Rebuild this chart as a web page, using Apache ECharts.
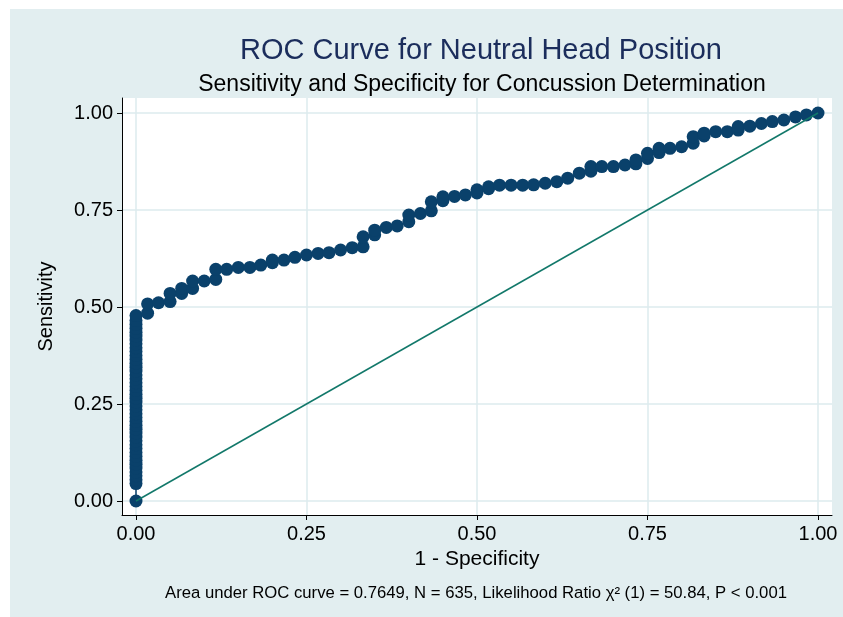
<!DOCTYPE html>
<html>
<head>
<meta charset="utf-8">
<script src="https://cdn.jsdelivr.net/npm/echarts@6/dist/echarts.min.js"></script>
<style>
  html, body { margin:0; padding:0; background:#ffffff; }
  #wrap { position:absolute; left:0; top:0; width:843px; height:617px; background:#ffffff; }
  #bg { position:absolute; left:10px; top:9px; right:0; bottom:0; background:#E2EEF0; }
  #chart { position:absolute; left:0; top:0; width:843px; height:617px; }
</style>
</head>
<body>
<div id="wrap"><div id="bg"></div><div id="chart"></div></div>
<script>
// ---- Data ----
const titleText = "ROC Curve for Neutral Head Position";
const subtitleText = "Sensitivity and Specificity for Concussion Determination";
const xAxisTitle = "1 - Specificity";
const yAxisTitle = "Sensitivity";
const noteText = "Area under ROC curve = 0.7649, N = 635, Likelihood Ratio \u03C7\u00B2 (1) = 50.84, P < 0.001";

const tickValues = [0, 0.25, 0.5, 0.75, 1];

// 1 - specificity (x) and sensitivity (y) of each plotted cut-off point
const fpr = [
  0, 0, 0, 0, 0, 0, 0, 0, 0, 0, 0, 0, 0, 0, 0, 0, 0, 0, 0, 0, 0, 0, 0,
  0, 0, 0, 0, 0, 0, 0, 0, 0, 0, 0, 0, 0, 0, 0, 0, 0, 0, 0, 0, 0, 0,
  0.017, 0.017, 0.033, 0.05, 0.05, 0.067, 0.067, 0.083, 0.083, 0.1,
  0.117, 0.117, 0.133, 0.15, 0.167, 0.183, 0.2, 0.2, 0.217, 0.233,
  0.25, 0.267, 0.283, 0.3, 0.317, 0.333, 0.333, 0.35, 0.35, 0.367,
  0.383, 0.4, 0.4, 0.417, 0.433, 0.433, 0.45, 0.45, 0.467, 0.483,
  0.5, 0.5, 0.517, 0.517, 0.533, 0.55, 0.567, 0.583, 0.6, 0.617,
  0.633, 0.65, 0.667, 0.667, 0.683, 0.7, 0.717, 0.733, 0.733, 0.75,
  0.75, 0.767, 0.767, 0.783, 0.8, 0.817, 0.817, 0.833, 0.833, 0.85,
  0.867, 0.883, 0.883, 0.9, 0.917, 0.933, 0.95, 0.967, 0.983, 1
];
const tpr = [
  0, 0.045, 0.055, 0.065, 0.075, 0.085, 0.095, 0.105, 0.115, 0.125, 0.135, 0.145,
  0.155, 0.165, 0.175, 0.185, 0.195, 0.205, 0.215, 0.225, 0.235, 0.245, 0.255,
  0.265, 0.275, 0.285, 0.295, 0.305, 0.315, 0.325, 0.335, 0.345, 0.355, 0.365,
  0.375, 0.385, 0.395, 0.405, 0.415, 0.425, 0.435, 0.445, 0.455, 0.465, 0.478,
  0.484, 0.508, 0.511, 0.514, 0.535, 0.535, 0.548, 0.548, 0.567, 0.567,
  0.571, 0.597, 0.597, 0.602, 0.602, 0.608, 0.614, 0.621, 0.621, 0.628,
  0.634, 0.638, 0.640, 0.647, 0.653, 0.655, 0.681, 0.686, 0.698, 0.705,
  0.709, 0.720, 0.737, 0.741, 0.748, 0.771, 0.774, 0.784, 0.785, 0.789,
  0.794, 0.802, 0.805, 0.810, 0.814, 0.814, 0.814, 0.815, 0.819, 0.823,
  0.832, 0.845, 0.850, 0.862, 0.862, 0.862, 0.866, 0.869, 0.879, 0.883,
  0.896, 0.898, 0.909, 0.909, 0.913, 0.922, 0.939, 0.941, 0.948, 0.952,
  0.952, 0.956, 0.965, 0.966, 0.973, 0.978, 0.982, 0.990, 0.995, 1
];
// chance (reference) line
const refX = [0, 1];
const refY = [0, 1];

// ---- Chart ----
const FONT = "'Liberation Sans', Arial, Helvetica, sans-serif";
const rocData = fpr.map((x, i) => [x, tpr[i]]);
const refData = refX.map((x, i) => [x, refY[i]]);

const chart = echarts.init(document.getElementById('chart'), null, { renderer: 'canvas' });
chart.setOption({
  animation: false,
  backgroundColor: 'transparent',
  textStyle: { fontFamily: FONT },
  title: [
    { text: titleText, left: 476, top: 31, textAlign: 'center',
      textStyle: { fontFamily: FONT, fontSize: 29, fontWeight: 'normal', color: '#1B2D5C' } },
    { text: subtitleText, left: 477, top: 68, textAlign: 'center',
      textStyle: { fontFamily: FONT, fontSize: 23, fontWeight: 'normal', color: '#000000' } },
    { text: noteText, left: 471, top: 580, textAlign: 'center',
      textStyle: { fontFamily: FONT, fontSize: 16.7, fontWeight: 'normal', color: '#000000' } }
  ],
  grid: {
    left: 122, right: 11, top: 98, bottom: 102,
    show: true, backgroundColor: '#ffffff', borderWidth: 0
  },
  xAxis: {
    type: 'value',
    min: -0.02053, max: 1.02053,
    name: xAxisTitle, nameLocation: 'middle', nameGap: 34,
    nameTextStyle: { fontFamily: FONT, fontSize: 21, color: '#000000' },
    axisLine: { show: true, onZero: false, lineStyle: { color: '#000000', width: 1 } },
    axisTick: { show: true, length: 5, customValues: tickValues, lineStyle: { color: '#000000' } },
    axisLabel: { show: true, customValues: tickValues, margin: 9, fontFamily: FONT, fontSize: 20, color: '#000000',
      formatter: v => v.toFixed(2) },
    splitLine: { show: true, lineStyle: { color: '#DDEBEE', width: 1.5 } }
  },
  yAxis: {
    type: 'value',
    min: -0.0361, max: 1.0387,
    name: yAxisTitle, nameLocation: 'middle', nameGap: 66, nameRotate: 90,
    nameTextStyle: { fontFamily: FONT, fontSize: 20, color: '#000000' },
    axisLine: { show: true, onZero: false, lineStyle: { color: '#000000', width: 1 } },
    axisTick: { show: true, length: 5, customValues: tickValues, lineStyle: { color: '#000000' } },
    axisLabel: { show: true, customValues: tickValues, margin: 9, fontFamily: FONT, fontSize: 20, color: '#000000',
      formatter: v => v.toFixed(2) },
    splitLine: { show: true, lineStyle: { color: '#DDEBEE', width: 1.5 } }
  },
  series: [
    {
      name: 'ROC', type: 'line', data: rocData,
      symbol: 'circle', symbolSize: 13, showAllSymbol: true,
      itemStyle: { color: '#0A416B' },
      lineStyle: { color: '#0A416B', width: 1.5 },
      z: 2
    },
    {
      name: 'Reference', type: 'line', data: refData,
      symbol: 'none',
      lineStyle: { color: '#12786A', width: 1.5 },
      z: 3
    }
  ]
});
</script>
</body>
</html>
